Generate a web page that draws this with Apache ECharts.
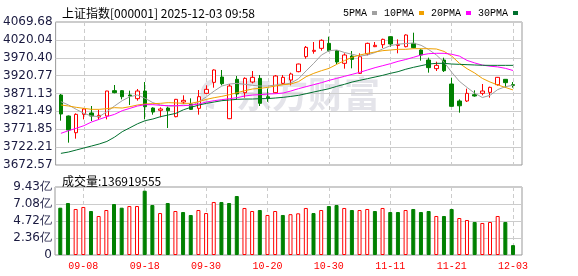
<!DOCTYPE html>
<html><head><meta charset="utf-8">
<script src="https://cdn.jsdelivr.net/npm/echarts@6/dist/echarts.min.js"></script>
<style>html,body{margin:0;padding:0;background:#fff}#c{width:578px;height:276px}</style>
</head><body><div id="c"></div>
<script>
const dates = ['09-03','09-04','09-05','09-08','09-09','09-10','09-11','09-12','09-15','09-16','09-17','09-18','09-19','09-22','09-23','09-24','09-25','09-26','09-29','09-30',
'10-09','10-10','10-13','10-14','10-15','10-16','10-17','10-20','10-21','10-22','10-23','10-24','10-27','10-28','10-29','10-30','10-31',
'11-03','11-04','11-05','11-06','11-07','11-10','11-11','11-12','11-13','11-14','11-17','11-18','11-19','11-20','11-21','11-24','11-25','11-26','11-27','11-28',
'12-01','12-02','12-03'];
const xTickLabels = ['09-08','09-18','09-30','10-20','10-30','11-11','11-21','12-03'];
const opens  = [3866.9,3808.6,3762.3,3813.2,3817.0,3805.8,3808.6,3879.0,3879.0,3866.9,3856.8,3878.0,3830.8,3824.4,3830.8,3806.8,3847.5,3842.0,3829.9,3871.6,
3902.1,3916.9,3801.2,3910.5,3873.4,3903.0,3913.2,3862.0,3873.4,3899.3,3908.6,3931.8,3973.4,3988.2,3996.5,4010.4,3990.1,3954.9,3975.2,3927.1,
3980.8,4001.2,4006.7,4028.9,4004.5,4001.2,4010.4,3991.9,3964.1,3940.1,3964.1,3897.5,3850.3,3850.3,3867.9,3871.6,3874.3,3895.6,3910.5,3895.6];
const closes = [3814.2,3769.7,3813.2,3828.1,3808.6,3810.5,3878.0,3873.4,3862.3,3864.2,3878.0,3834.5,3819.7,3828.1,3823.4,3854.9,3852.1,3827.1,3862.3,3882.7,
3936.4,3898.4,3891.9,3869.7,3913.2,3916.0,3843.8,3859.0,3919.7,3916.0,3925.3,3953.0,3999.3,3991.0,4018.8,3990.1,3958.6,3978.0,3966.0,3973.4,
4010.4,4004.9,4021.5,4008.6,4007.5,4033.6,3998.4,3978.0,3942.9,3949.3,3934.5,3835.5,3837.0,3871.6,3864.2,3878.0,3888.2,3916.0,3901.2,3893.8];
const lows   = [3795.7,3734.6,3745.7,3799.4,3794.7,3797.5,3799.4,3871.6,3854.9,3839.2,3851.2,3799.4,3812.3,3805.0,3775.3,3805.0,3842.0,3825.3,3812.3,3869.7,
3887.3,3893.8,3800.0,3854.9,3859.5,3899.3,3836.4,3848.0,3871.6,3896.6,3893.8,3930.0,3967.8,3981.7,3990.1,3987.3,3953.0,3940.1,3941.0,3925.3,
3977.1,4000.0,3997.5,4001.2,3982.7,3999.3,3996.5,3962.3,3929.0,3933.6,3930.8,3835.0,3817.9,3847.5,3862.3,3866.0,3859.5,3892.9,3887.3,3887.3];
const highs  = [3869.7,3810.0,3816.0,3830.8,3836.4,3825.3,3878.5,3894.7,3880.8,3879.0,3883.6,3903.0,3832.7,3832.7,3834.5,3856.0,3866.0,3857.7,3880.8,3893.8,
3938.2,3936.4,3897.5,3919.7,3916.0,3933.6,3922.5,3885.0,3922.5,3922.5,3929.0,3954.0,4003.0,4014.1,4021.5,4028.9,3991.9,3982.7,3989.1,3982.7,
4012.3,4014.1,4023.4,4030.0,4021.5,4035.4,4040.0,3993.8,3970.6,3959.5,3970.6,3915.1,3854.9,3884.5,3879.9,3897.5,3890.1,3917.0,3911.0,3903.0];
const prevClose = 3858.0;
const volumes = [6.56,7.21,6.38,6.66,6.10,5.41,6.24,7.07,6.56,6.79,6.79,8.92,6.93,5.82,7.21,6.10,5.96,5.55,6.24,5.82,
7.35,7.35,7.21,8.18,6.52,6.10,6.24,5.55,6.10,5.55,5.66,5.78,6.52,5.82,6.24,6.79,6.93,6.52,6.24,6.24,
6.38,6.10,6.52,5.96,5.96,6.24,6.38,5.96,6.10,5.41,5.41,6.38,5.13,4.85,4.58,4.44,4.58,5.41,4.58,1.37];
const ma5  = [3848.4,3839.2,3827.1,3816.0,3808.6,3806.8,3820.6,3836.4,3851.2,3862.3,3866.9,3857.7,3845.7,3839.2,3836.4,3836.4,3839.2,3836.4,3848.4,3862.0,
3878.0,3891.9,3897.5,3899.3,3896.6,3893.8,3891.9,3891.9,3894.7,3896.0,3900.0,3912.0,3934.0,3955.0,3978.0,3990.0,3992.0,3985.0,3980.0,3975.0,
3978.0,3985.0,3995.0,4004.0,4008.0,4010.0,4011.0,4005.0,3993.0,3978.0,3958.0,3930.0,3905.0,3888.0,3872.0,3860.0,3866.0,3882.0,3890.0,3894.0];
const ma10 = [3839.2,3836.4,3832.7,3829.9,3827.1,3827.1,3829.0,3831.8,3830.8,3834.5,3839.2,3842.0,3842.9,3843.8,3845.7,3845.0,3843.8,3843.8,3848.4,3854.9,
3859.5,3863.2,3867.9,3873.4,3879.0,3883.6,3885.5,3888.2,3891.9,3895.6,3897.5,3904.0,3917.8,3927.1,3934.5,3941.0,3952.1,3962.3,3971.6,3978.0,
3982.7,3986.4,3990.1,3991.9,3993.8,3993.8,3995.6,3995.6,3995.6,3994.7,3988.0,3975.0,3955.0,3940.0,3928.0,3913.0,3903.0,3895.0,3888.0,3881.0];
const ma20 = [3760.5,3767.9,3774.4,3781.8,3792.0,3799.4,3806.8,3813.2,3823.4,3829.9,3836.4,3840.1,3840.1,3838.2,3837.3,3837.3,3837.3,3839.2,3842.0,3847.5,
3851.2,3854.0,3856.8,3859.5,3864.2,3866.9,3867.9,3869.7,3870.6,3872.5,3878.0,3884.5,3890.1,3895.6,3901.2,3907.7,3913.2,3918.8,3924.3,3929.9,
3936.4,3942.9,3948.4,3954.0,3960.4,3965.5,3971.6,3978.0,3981.7,3982.7,3982.7,3980.0,3975.0,3963.0,3956.0,3950.0,3947.0,3945.0,3941.0,3935.0];
const ma30 = [3704.9,3708.6,3714.2,3719.8,3725.3,3730.9,3738.0,3750.0,3765.0,3776.0,3787.0,3795.7,3800.3,3806.8,3811.4,3816.0,3826.0,3833.0,3839.0,3843.8,
3847.5,3851.2,3853.1,3854.9,3855.8,3855.8,3856.8,3857.0,3858.6,3860.5,3863.0,3866.0,3870.6,3875.3,3879.9,3884.5,3891.0,3896.6,3903.0,3907.7,
3912.3,3916.9,3921.6,3927.1,3931.8,3938.5,3943.8,3948.4,3953.0,3954.9,3954.9,3953.0,3952.1,3951.2,3950.3,3949.5,3949.3,3949.3,3949.3,3949.3];
const priceTicks = [3672.57,3722.21,3771.85,3821.49,3871.13,3920.77,3970.40,4020.04,4069.68];
const volTicks = [0,2.36,4.72,7.08,9.43];
const titleText = '上证指数[000001] 2025-12-03 09:58';
const volTitle = '成交量:136919555';
const maNames = ['5PMA','10PMA','20PMA','30PMA'];
const maColors = ['#a0a0a0','#f0a000','#ff00ff','#00702e'];

const UP = '#ff0000', DOWN = '#008000';
const idx = dates.map((d, i) => i);
const tickIdx = xTickLabels.map(d => dates.indexOf(d));
const candleData = idx.map(i => [i, opens[i], closes[i], lows[i], highs[i]]);
const volData = idx.map(i => {
  const up = closes[i] > (i ? closes[i - 1] : prevClose);
  return { value: [i, volumes[i]],
    itemStyle: up ? { color: '#ffffff', borderColor: UP, borderWidth: 1 } : { color: DOWN, borderColor: DOWN, borderWidth: 1 } };
});
const maSeries = [ma5, ma10, ma20, ma30].map((arr, k) => ({
  name: maNames[k], type: 'line', xAxisIndex: 0, yAxisIndex: 0,
  data: idx.map(i => [i, arr[i]]), symbol: 'none', silent: true, z: 5,
  lineStyle: { width: 1, color: maColors[k] }, itemStyle: { color: maColors[k] }
}));

const xCommon = {
  type: 'value', min: -0.69, max: 60.17,
  axisLine: { show: false },
  axisTick: { show: false, customValues: tickIdx },
  splitLine: { show: true, lineStyle: { color: '#cccccc', type: [4, 3], width: 1 } }
};
const yCommon = {
  type: 'value', axisLine: { show: false },
  splitLine: { show: true, lineStyle: { color: '#cccccc', width: 1 } }
};
const labelFont = { fontFamily: 'DejaVu Sans', fontSize: 12, color: '#1a1a40', margin: 3 };

const chart = echarts.init(document.getElementById('c'), null, { renderer: 'canvas' });
chart.setOption({
  animation: false,
  backgroundColor: '#ffffff',
  title: [
    { text: titleText, left: 57, top: 2, textStyle: { fontFamily: 'Noto Sans CJK SC', fontSize: 12, fontWeight: 'normal', color: '#000' } },
    { text: volTitle, left: 57, top: 170, textStyle: { fontFamily: 'Noto Sans CJK SC', fontSize: 12, fontWeight: 'normal', color: '#000' } }
  ],
  legend: {
    left: 338, top: 3, align: 'right', icon: 'rect', itemWidth: 5, itemHeight: 4, itemGap: 7,
    selectedMode: false, data: maNames,
    textStyle: { fontFamily: 'Liberation Mono', fontSize: 10, color: '#000' }
  },
  graphic: [
    { type: 'text', left: 236, top: 76, z: -10, silent: true,
      style: { text: '东方财富', font: 'bold 36px "Noto Sans CJK SC"', fill: '#e4e4ea' } },
    { type: 'arc', z: -10, silent: true, shape: { cx: 216, cy: 94, r: 13, startAngle: Math.PI * 0.55, endAngle: Math.PI * 1.45 },
      style: { stroke: '#e4e4ea', lineWidth: 5, fill: null } }
  ],
  grid: [
    { left: 55, right: 56, top: 22, height: 143, show: true, borderColor: '#999999', borderWidth: 1 },
    { left: 55, right: 56, top: 187, height: 68, show: true, borderColor: '#999999', borderWidth: 1 }
  ],
  xAxis: [
    Object.assign({}, xCommon, { gridIndex: 0, axisLabel: { show: false } }),
    Object.assign({}, xCommon, { gridIndex: 1, axisLabel: { show: true, customValues: tickIdx, formatter: v => dates[v],
      color: '#ff0000', fontFamily: 'Liberation Mono', fontSize: 10, margin: 6 } })
  ],
  yAxis: [
    Object.assign({}, yCommon, { gridIndex: 0, min: priceTicks[0], max: priceTicks[priceTicks.length - 1],
      axisTick: { show: false, customValues: priceTicks },
      axisLabel: Object.assign({ customValues: priceTicks, formatter: v => v.toFixed(2) }, labelFont) }),
    Object.assign({}, yCommon, { gridIndex: 1, min: volTicks[0], max: volTicks[volTicks.length - 1],
      axisTick: { show: false, customValues: volTicks },
      axisLabel: Object.assign({ customValues: volTicks, formatter: v => v === 0 ? '0' : v.toFixed(2) + '亿' }, labelFont) })
  ],
  series: [
    { type: 'candlestick', xAxisIndex: 0, yAxisIndex: 0, data: candleData, barWidth: 4, silent: true, z: 3,
      itemStyle: { color: '#ffffff', color0: DOWN, borderColor: UP, borderColor0: DOWN, borderWidth: 1 } },
    ...maSeries,
    { type: 'bar', xAxisIndex: 1, yAxisIndex: 1, data: volData, barWidth: 4, silent: true }
  ]
});
</script></body></html>
